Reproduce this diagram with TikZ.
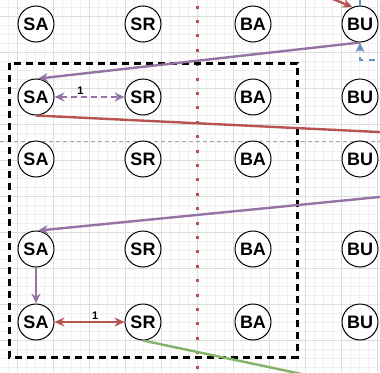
\documentclass[tikz,border=0pt]{standalone}
\usepackage{fontspec}
\setmainfont{Liberation Sans}
\usetikzlibrary{arrows.meta}
\definecolor{purpleline}{HTML}{9673A6}
\definecolor{redline}{HTML}{B85450}
\definecolor{greenline}{HTML}{82B366}
\definecolor{blueline}{HTML}{6C8EBF}
\definecolor{gridmajor}{HTML}{DCDCDC}
\definecolor{gridminor}{HTML}{F0F0F0}

\begin{document}
\begin{tikzpicture}[x=1pt,y=-1pt]
\tikzstyle{station}=[draw,shape=circle,minimum size=36pt,inner sep=0pt,line width=1pt,fill=white,font=\fontsize{18}{20}\selectfont\bfseries];
\tikzstyle{link}=[line width=2.4pt,-{Stealth[length=10pt,width=9pt]}];
\tikzstyle{twoway}=[line width=2.4pt,{Stealth[length=10pt,width=9pt]}-{Stealth[length=10pt,width=9pt]}];
\tikzstyle{plain}=[line width=2.4pt];
\tikzstyle{hops}=[text=black,font=\fontsize{11}{12}\selectfont\bfseries,inner sep=1pt];
\useasboundingbox (0,0) rectangle (380,372);
\clip (0,0) rectangle (380,372);
\fill[white] (0,0) rectangle (380,372);
\foreach \k in {0,...,41} \draw[gridminor,line width=0.6pt] (8+9*\k,0) -- (8+9*\k,372);
\foreach \k in {0,...,40} \draw[gridminor,line width=0.6pt] (0,7+9*\k) -- (380,7+9*\k);
\foreach \k in {0,...,10} \draw[gridmajor,line width=0.8pt] (17+36*\k,0) -- (17+36*\k,372);
\foreach \k in {0,...,10} \draw[gridmajor,line width=0.8pt] (0,16+36*\k) -- (380,16+36*\k);
\draw[gray!70,line width=0.6pt,dash pattern=on 4pt off 3pt] (0,141) -- (380,141);
\draw[redline,line width=3pt,dash pattern=on 3pt off 11.4pt,dash phase=8.9pt] (197.5,0) -- (197.5,372);
\draw[line width=3pt,dash pattern=on 7pt off 5pt] (9,63) rectangle (297,357);
\foreach \r/\y in {1/24,2/97,3/159,4/249,5/322} {
  \node[station] (sa\r) at (36,\y) {SA};
  \node[station] (sr\r) at (143,\y) {SR};
  \node[station] (ba\r) at (253,\y) {BA};
  \node[station] (bu\r) at (360,\y) {BU};
}
\coordinate (redtop) at (277,-24);
\coordinate (bluetop) at (360,-20);
\coordinate (blueright) at (423,60);
\coordinate (redright) at (420,134);
\coordinate (purpleright) at (420,193);
\coordinate (greenend) at (330,380);
\draw[link,redline] (redtop) -- (bu1.114);
\draw[plain,blueline] (bu1.north) -- (bluetop);
\draw[link,blueline,dash pattern=on 6pt off 6pt] (blueright) -| (bu1.south);
\draw[link,purpleline] (bu1.south) -- (sa2.84);
\draw[twoway,purpleline,dash pattern=on 6pt off 4pt] (sa2) -- node[hops,pos=.37,above] {1} (sr2);
\draw[plain,redline] (sa2.south) -- (redright);
\draw[link,purpleline] (purpleright) -- (sa4.84);
\draw[link,purpleline] (sa4) -- (sa5);
\draw[twoway,redline] (sa5) -- node[hops,pos=.58,above] {1} (sr5);
\draw[plain,greenline] (sr5.south) -- (greenend);
\end{tikzpicture}
\end{document}
